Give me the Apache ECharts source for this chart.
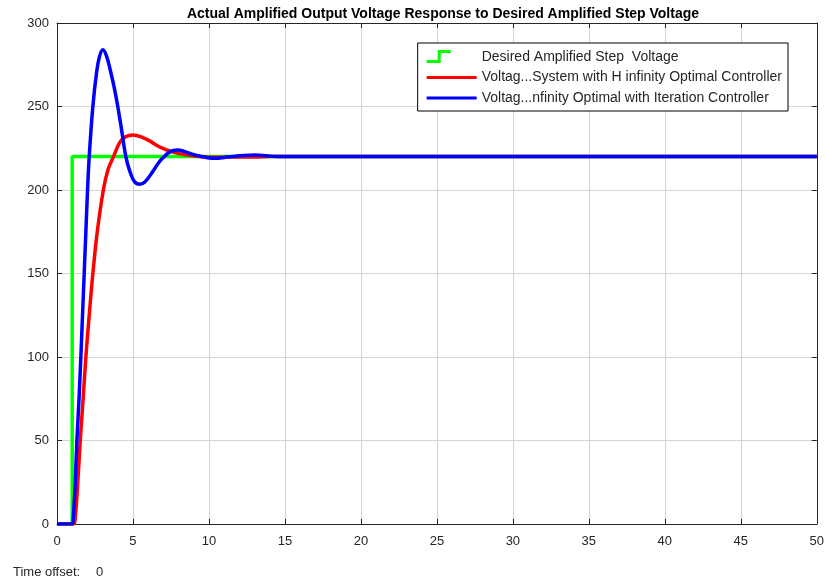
<!DOCTYPE html>
<html>
<head>
<meta charset="utf-8">
<script src="https://cdn.jsdelivr.net/npm/echarts@6/dist/echarts.min.js"></script>
<style>
html,body{margin:0;padding:0;background:#fff;}
#chart{width:827px;height:582px;}
</style>
</head>
<body>
<div id="chart"></div>
<script>
// ---- data ----
var titleText = 'Actual Amplified Output Voltage Response to Desired Amplified Step Voltage';
var seriesNames = [
  'Desired Amplified Step  Voltage',
  'Voltag...System with H infinity Optimal Controller',
  'Voltag...nfinity Optimal with Iteration Controller'
];
var tStep = [0, 1, 1, 50];
var vStep = [0, 0, 220, 220];

var tRed = [0, 1.1, 1.2, 1.35, 1.53, 1.72, 1.9, 2.12, 2.36, 2.65, 3.05, 3.35, 3.72, 4.13, 4.5, 5.0, 5.5, 6.1, 6.6, 7.2, 7.7, 8.29, 8.8, 9.4, 10, 11, 12, 13, 14, 50];
var vRed = [0, 0, 4, 22, 50, 75, 100, 125, 150, 175, 200, 212, 220, 228.5, 231.8, 233, 232, 229.4, 226.5, 224, 222.5, 221.4, 220.6, 220, 219.6, 219.6, 219.8, 219.8, 220, 220];

var tBlue = [0, 1.0, 1.08, 1.2, 1.31, 1.45, 1.57, 1.68, 1.79, 1.9, 2.01, 2.12, 2.36, 2.6, 2.8, 3.02, 3.25, 3.5, 3.75, 4.0, 4.25, 4.53, 4.8, 5.1, 5.45, 5.8, 6.3, 6.7, 7.0, 7.3, 7.6, 7.96, 8.4, 8.9, 9.4, 9.9, 10.5, 11, 11.5, 12.3, 13, 13.8, 14.5, 50];
var vBlue = [0, 0, 5, 25, 50, 75, 100, 125, 150, 175, 200, 220, 250, 270, 280, 284, 280.5, 272, 262, 250, 236, 220, 211, 205, 203.5, 205, 211, 216.5, 219.5, 222, 223.5, 224, 223, 221.5, 220.3, 219.3, 219, 219.5, 220, 220.7, 221, 220.5, 220, 220];

var xTicks = {min: 0, max: 50, interval: 5};
var yTicks = {min: 0, max: 300, interval: 50};

function pairs(t, v) { return t.map(function (x, i) { return [x, v[i]]; }); }

var stepIcon = 'path://M0,10 L11,10 L11,0 L24,0 L24,3 L14,3 L14,13 L0,13 Z M49.9,14 L50,14 L50,13.9 Z';
var lineIcon = 'path://M0,5.5 L50,5.5 L50,8.5 L0,8.5 Z M0,0 L0.1,0 L0,0.1 Z M49.9,14 L50,14 L50,13.9 Z';

var FONT = 'Liberation Sans, Arial, sans-serif';
var chart = echarts.init(document.getElementById('chart'));
var labelStyle = {color: '#262626', fontSize: 13, fontFamily: FONT};
chart.setOption({
  backgroundColor: '#fff',
  animation: false,
  title: {
    text: titleText, left: 438, top: 2, textAlign: 'center',
    textStyle: {fontSize: 14, fontWeight: 'bold', color: '#000', fontFamily: FONT}
  },
  legend: {
    orient: 'vertical', right: 39, top: 43,
    backgroundColor: '#fff', borderColor: '#000', borderWidth: 1,
    padding: [7, 6, 6, 9], itemGap: 6.5, itemWidth: 50, itemHeight: 14,
    textStyle: {fontSize: 14, color: '#262626', fontFamily: FONT},
    data: [
      {name: seriesNames[0], icon: stepIcon},
      {name: seriesNames[1], icon: lineIcon},
      {name: seriesNames[2], icon: lineIcon}
    ]
  },
  grid: {left: 57, right: 8, top: 23, bottom: 58, show: false},
  xAxis: [{
    type: 'value', min: xTicks.min, max: xTicks.max, interval: xTicks.interval,
    axisLine: {lineStyle: {color: '#262626', width: 1}, onZero: false},
    axisTick: {inside: true, length: 5, lineStyle: {color: '#262626'}},
    axisLabel: Object.assign({margin: 11}, labelStyle),
    splitLine: {lineStyle: {color: '#d4d4d4', width: 1}}
  }, {
    type: 'value', position: 'top', min: xTicks.min, max: xTicks.max, interval: xTicks.interval,
    axisLine: {lineStyle: {color: '#262626', width: 1}, onZero: false},
    axisTick: {inside: true, length: 5, lineStyle: {color: '#262626'}},
    axisLabel: {show: false}, splitLine: {show: false}
  }],
  yAxis: [{
    type: 'value', min: yTicks.min, max: yTicks.max, interval: yTicks.interval,
    axisLine: {show: true, lineStyle: {color: '#262626', width: 1}, onZero: false},
    axisTick: {show: true, inside: true, length: 5, lineStyle: {color: '#262626'}},
    axisLabel: Object.assign({margin: 8}, labelStyle),
    splitLine: {lineStyle: {color: '#d4d4d4', width: 1}}
  }, {
    type: 'value', position: 'right', min: yTicks.min, max: yTicks.max, interval: yTicks.interval,
    axisLine: {show: true, lineStyle: {color: '#262626', width: 1}, onZero: false},
    axisTick: {show: true, inside: true, length: 5, lineStyle: {color: '#262626'}},
    axisLabel: {show: false}, splitLine: {show: false}
  }],
  graphic: [{
    type: 'text', left: 13, top: 566,
    style: {text: 'Time offset:', fontSize: 13, fill: '#262626', fontFamily: FONT}
  }, {
    type: 'text', left: 96, top: 566,
    style: {text: '0', fontSize: 13, fill: '#262626', fontFamily: FONT}
  }],
  series: [
    {name: seriesNames[0], type: 'line', data: pairs(tStep, vStep), showSymbol: false, symbol: 'none',
     color: '#00ff00', lineStyle: {color: '#00ff00', width: 3.5}, z: 2},
    {name: seriesNames[1], type: 'line', data: pairs(tRed, vRed), showSymbol: false, symbol: 'none',
     smooth: 0.35, color: '#ff0000', lineStyle: {color: '#ff0000', width: 3.5}, z: 3},
    {name: seriesNames[2], type: 'line', data: pairs(tBlue, vBlue), showSymbol: false, symbol: 'none',
     smooth: 0.35, color: '#0000ff', lineStyle: {color: '#0000ff', width: 3.5}, z: 4}
  ]
});
</script>
</body>
</html>
